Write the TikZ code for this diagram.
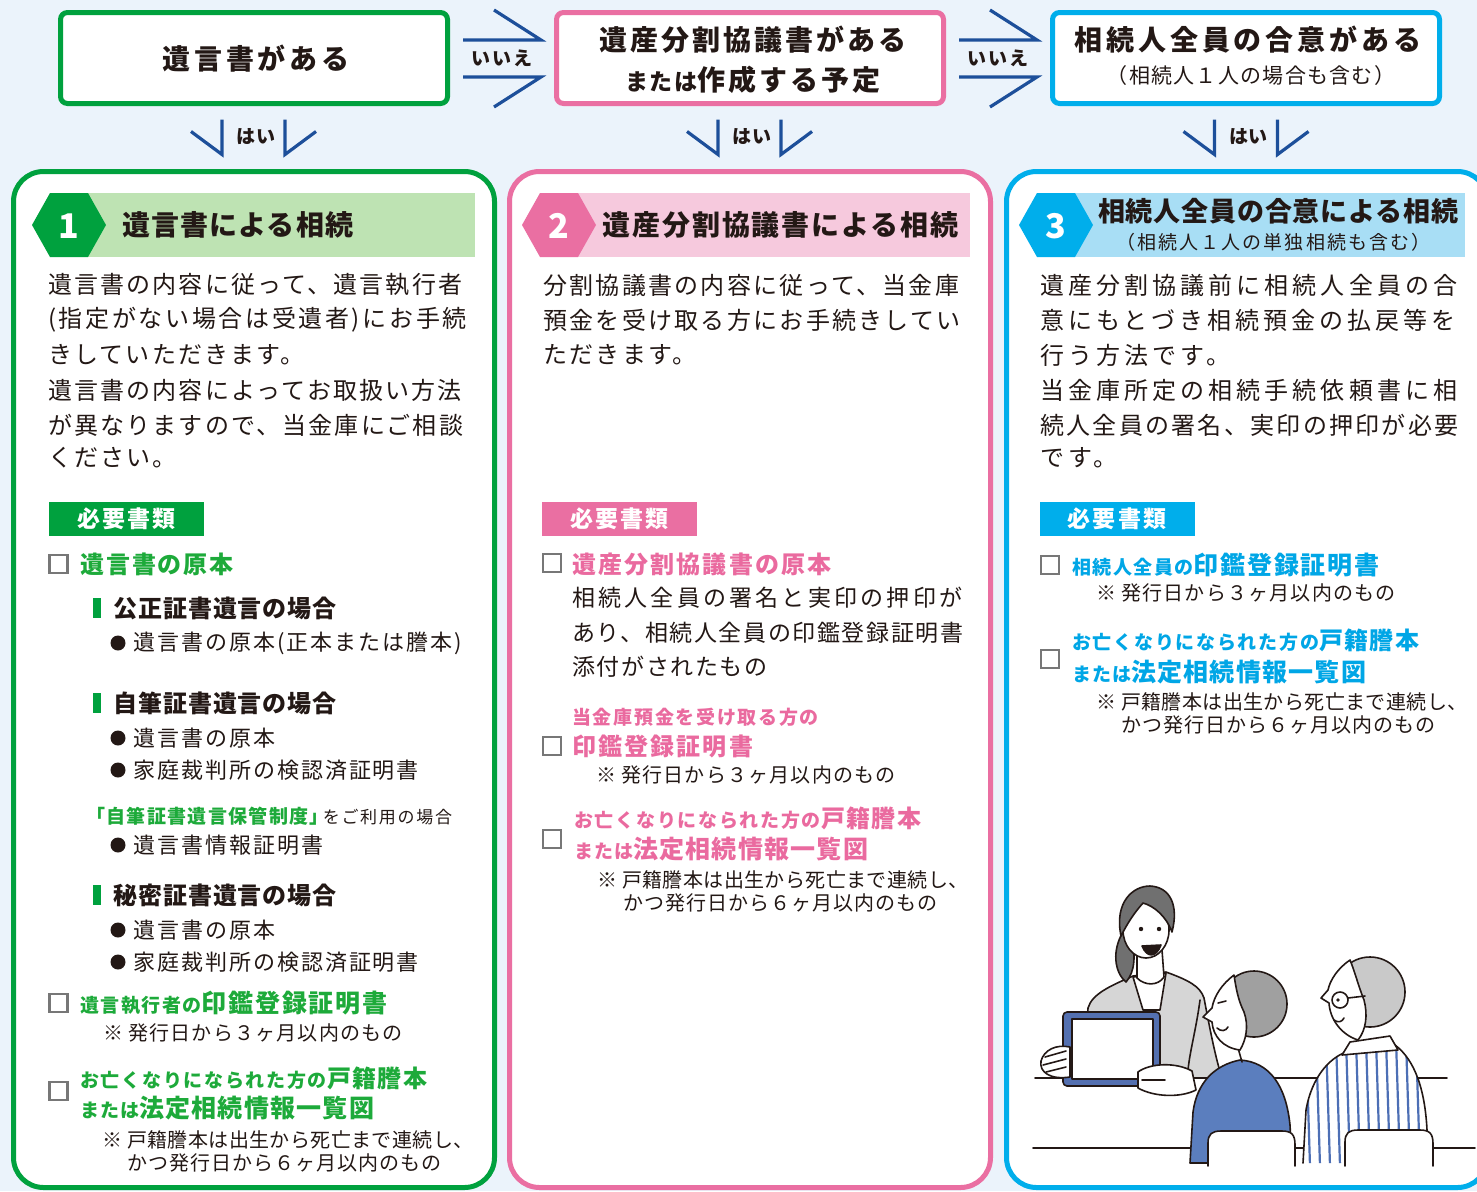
\documentclass[tikz,border=0pt]{standalone}
\usepackage{fontspec}
\setmainfont{Noto Sans CJK JP}
\usetikzlibrary{calc}

\definecolor{bg}{HTML}{EBF3FB}
\definecolor{ink}{HTML}{231815}
\definecolor{cgreen}{HTML}{00A13E}
\definecolor{lgreen}{HTML}{BEE3B3}
\definecolor{tgreen}{HTML}{1DAA3A}
\definecolor{cpink}{HTML}{EA6FA2}
\definecolor{lpink}{HTML}{F6C9DD}
\definecolor{tpink}{HTML}{EA6A9F}
\definecolor{ccyan}{HTML}{00AEEB}
\definecolor{lcyan}{HTML}{A8DEF5}
\definecolor{tcyan}{HTML}{00A6E6}
\definecolor{navy}{HTML}{1D4F9A}
\definecolor{boxgray}{HTML}{777777}
\definecolor{jacket}{HTML}{D6D6D6}
\definecolor{hairdark}{HTML}{707070}
\definecolor{hairgray}{HTML}{A0A0A0}
\definecolor{hairlight}{HTML}{C9C9C9}
\definecolor{tabblue}{HTML}{5470B0}
\definecolor{topblue}{HTML}{5B7EBE}
\definecolor{stripe}{HTML}{4D6FB5}

% size and tracking of a run of text
\newcommand\fs[2]{\fontsize{#1}{#1}\selectfont\addfontfeatures{LetterSpace=#2}}

\tikzset{
  txt/.style={anchor=west, inner sep=0pt, text=ink},
  ctxt/.style={anchor=center, inner sep=0pt, text=ink},
  topbox/.style={draw=#1, line width=5pt, rounded corners=7pt, fill=white,
    minimum width=387pt, minimum height=91pt, inner sep=0pt},
  panel/.style={draw=#1, line width=5pt, rounded corners=30pt, fill=white,
    minimum width=481pt, minimum height=1016pt, inner sep=0pt},
  chev/.style={draw=navy, line width=3.2pt},
  chk/.style={draw=boxgray, line width=2.5pt, minimum size=18pt, inner sep=0pt},
  dot/.style={circle, fill=ink, minimum size=15pt, inner sep=0pt},
  bar/.style={fill=#1, minimum width=8pt, minimum height=20pt, inner sep=0pt},
  tag/.style={fill=#1, minimum width=155pt, minimum height=34pt, inner sep=0pt,
    text=white, font=\bfseries\fs{23}{9}},
  hexnum/.style={text=white, font=\bfseries\fontsize{34}{34}\selectfont, inner sep=0pt},
  art/.style={draw=ink, line width=1.6pt, line join=round, line cap=round},
}

\begin{document}
\begin{tikzpicture}[x=1pt,y=-1pt]
\useasboundingbox (0,0) rectangle (1477,1191);
\fill[bg] (0,0) rectangle (1477,1191);
\clip (0,0) rectangle (1477,1191);

% ---------- question boxes ----------
\node[topbox=cgreen] (q1) at (254,58) {};
\node[topbox=cpink]  (q2) at (750,58) {};
\node[topbox=ccyan]  (q3) at (1246,58) {};

\node[ctxt] (q1t) at (256,59) {\bfseries\fs{28}{13}遺言書がある};
\node[ctxt] (q2a) at (753,40) {\bfseries\fs{28}{11}遺産分割協議書がある};
\node[ctxt] (q2b) at (753,80) {\bfseries\fs{23}{6}または\fs{28}{11}作成する予定};
\node[ctxt] (q3a) at (1248,40) {\bfseries\fs{28}{14}相続人全員の合意がある};
\node[ctxt] (q3b) at (1251,76) {\fs{21}{6}（相続人１人の場合も含む）};

% ---------- answer panels ----------
\node[panel=cgreen] (p1) at (254,679.5) {};
\node[panel=cpink]  (p2) at (750,679.5) {};
\node[panel=ccyan]  (p3) at (1247,679.5) {};

% ---------- "no" arrows between the questions ----------
\foreach \a/\b/\n in {q1/q2/n1, q2/q3/n2}{
  \coordinate (\n) at ($(\a.east)!0.5!(\b.west)$);
  \draw[chev] ($(\n)+(-39,-18)$) -- ($(\n)+(39,-18)$) -- ($(\n)+(-8,-48)$);
  \draw[chev] ($(\n)+(-39,19)$) -- ($(\n)+(39,19)$) -- ($(\n)+(-8,49)$);
  \node[ctxt] (\n t) at ($(\n)+(0,0)$) {\bfseries\fs{19}{10}いいえ};
}

% ---------- "yes" arrows from each question to its panel ----------
\foreach \a/\b/\n in {q1/p1/y1, q2/p2/y2, q3/p3/y3}{
  \coordinate (\n) at ($(\a.south)!0.5!(\b.north)$);
  \draw[chev] ($(\n)+(-63,-6)$) -- ($(\n)+(-32,17)$) -- ($(\n)+(-32,-18)$);
  \draw[chev] ($(\n)+(31,-18)$) -- ($(\n)+(31,17)$) -- ($(\n)+(62,-6)$);
  \node[ctxt] (\n t) at ($(\n)+(2,-1)$) {\bfseries\fs{19}{5}はい};
}

% ---------- panel headers ----------
\fill[lgreen] (50,193) rectangle (475,257);
\fill[lpink]  (540,193) rectangle (970,257);
\fill[lcyan]  (1038,193) rectangle (1465,257);
\foreach \xl/\c/\num/\h in {32/cgreen/1/h1, 522/cpink/2/h2, 1019/ccyan/3/h3}{
  \fill[\c] (\xl,225) -- (\xl+18,193) -- (\xl+56,193) -- (\xl+74,225)
            -- (\xl+56,257) -- (\xl+18,257) -- cycle;
  \node[hexnum] (\h) at (\xl+37,226) {\num};
}
\node[txt] (t1) at (122,225) {\bfseries\fs{28}{4}遺言書による相続};
\node[txt] (t2) at (602,225) {\bfseries\fs{28}{7}遺産分割協議書による相続};
\node[txt] (t3) at (1098,211) {\bfseries\fs{27}{3}相続人全員の合意による相続};
\node[txt] (t3s) at (1116,242) {\fs{19}{11}（相続人１人の単独相続も含む）};

% ---------- panel 1 : will ----------
\node[txt] (a1) at (48,285) {\fs{24}{9}遺言書の内容に従って、遺言執行者};
\node[txt] (a2) at (48,320) {\fs{24}{11}(指定がない場合は受遺者)にお手続};
\node[txt] (a3) at (48,355) {\fs{24}{9}きしていただきます。};
\node[txt] (a4) at (48,390) {\fs{24}{9}遺言書の内容によってお取扱い方法};
\node[txt] (a5) at (48,425) {\fs{24}{9}が異なりますので、当金庫にご相談};
\node[txt] (a6) at (48,458) {\fs{24}{9}ください。};

\node[tag=cgreen] (g1) at (126.5,519) {必要書類};

\node[chk] (c11) at (58.5,564) {};
\node[txt,text=tgreen] (a7) at (80,564) {\bfseries\fs{24}{8}遺言書の原本};

\node[bar=cgreen] (b11) at (97,608) {};
\node[txt] (a8) at (113,608) {\bfseries\fs{24}{4}公正証書遺言の場合};
\node[dot] (d11) at (118,643) {};
\node[txt] (a9) at (133,643) {\fs{22}{9}遺言書の原本(正本または謄本)};

\node[bar=cgreen] (b12) at (97,703) {};
\node[txt] (a10) at (113,703) {\bfseries\fs{24}{4}自筆証書遺言の場合};
\node[dot] (d12) at (118,738) {};
\node[txt] (a11) at (133,738) {\fs{22}{9}遺言書の原本};
\node[dot] (d13) at (118,770) {};
\node[txt] (a12) at (133,770) {\fs{22}{9}家庭裁判所の検認済証明書};

\node[txt] (a13) at (86,816) {{\color{tgreen}\bfseries\fs{19}{7}「自筆証書遺言保管制度」}\hspace{-6pt}\fs{17}{10}をご利用の場合};
\node[dot] (d14) at (118,845) {};
\node[txt] (a14) at (133,845) {\fs{22}{9}遺言書情報証明書};

\node[bar=cgreen] (b13) at (97,895) {};
\node[txt] (a15) at (113,895) {\bfseries\fs{24}{4}秘密証書遺言の場合};
\node[dot] (d15) at (118,930) {};
\node[txt] (a16) at (133,930) {\fs{22}{9}遺言書の原本};
\node[dot] (d16) at (118,962) {};
\node[txt] (a17) at (133,962) {\fs{22}{9}家庭裁判所の検認済証明書};

\node[chk] (c12) at (58.5,1003) {};
\node[txt,text=tgreen] (a18) at (80,1003) {\bfseries\fs{19}{8}遺言執行者の\fs{25}{7}印鑑登録証明書};
\node[txt] (a19) at (103,1033) {\fs{20}{6}※\hspace{5pt}発行日から３ヶ月以内のもの};

\node[chk] (c13) at (58.5,1091) {};
\node[txt,text=tgreen] (a20) at (80,1078) {\bfseries\fs{19}{9}お亡くなりになられた方の\fs{24}{6}戸籍謄本};
\node[txt,text=tgreen] (a21) at (80,1108) {\bfseries\fs{19}{5}または\fs{25}{5}法定相続情報一覧図};
\node[txt] (a22) at (102,1140) {\fs{20}{2}※\hspace{5pt}戸籍謄本は出生から死亡まで連続し、};
\node[txt] (a23) at (127,1163) {\fs{20}{5}かつ発行日から６ヶ月以内のもの};

% ---------- panel 2 : division agreement ----------
\node[txt] (e1) at (543,285) {\fs{24}{9.5}分割協議書の内容に従って、当金庫};
\node[txt] (e2) at (543,320) {\fs{24}{9.5}預金を受け取る方にお手続きしてい};
\node[txt] (e3) at (543,355) {\fs{24}{9.5}ただきます。};

\node[tag=cpink] (g2) at (619.5,519) {必要書類};

\node[chk] (c21) at (552,563) {};
\node[txt,text=tpink] (e4) at (572,564) {\bfseries\fs{24}{9}遺産分割協議書の原本};
\node[txt] (e5) at (572,598) {\fs{23}{14}相続人全員の署名と実印の押印が};
\node[txt] (e6) at (572,633) {\fs{23}{7}あり、相続人全員の印鑑登録証明書};
\node[txt] (e7) at (572,667) {\fs{23}{7}添付がされたもの};

\node[txt,text=tpink] (e8) at (572,717) {\bfseries\fs{19}{9}当金庫預金を受け取る方の};
\node[chk] (c22) at (552,746) {};
\node[txt,text=tpink] (e9) at (572,746) {\bfseries\fs{24}{9}印鑑登録証明書};
\node[txt] (e10) at (596,775) {\fs{20}{6}※\hspace{5pt}発行日から３ヶ月以内のもの};

\node[chk] (c23) at (552,839) {};
\node[txt,text=tpink] (e11) at (574,818) {\bfseries\fs{19}{9}お亡くなりになられた方の\fs{24}{6}戸籍謄本};
\node[txt,text=tpink] (e12) at (574,849) {\bfseries\fs{19}{5}または\fs{25}{5}法定相続情報一覧図};
\node[txt] (e13) at (597,880) {\fs{20}{2}※\hspace{5pt}戸籍謄本は出生から死亡まで連続し、};
\node[txt] (e14) at (623,903) {\fs{20}{5}かつ発行日から６ヶ月以内のもの};

% ---------- panel 3 : agreement of all heirs ----------
\node[txt] (f1) at (1040,285) {\fs{24}{17}遺産分割協議前に相続人全員の合};
\node[txt] (f2) at (1040,320) {\fs{24}{17}意にもとづき相続預金の払戻等を};
\node[txt] (f3) at (1040,355) {\fs{24}{17}行う方法です。};
\node[txt] (f4) at (1040,390) {\fs{24}{17}当金庫所定の相続手続依頼書に相};
\node[txt] (f5) at (1040,425) {\fs{24}{9.5}続人全員の署名、実印の押印が必要};
\node[txt] (f6) at (1040,458) {\fs{24}{17}です。};

\node[tag=ccyan] (g3) at (1117,519) {必要書類};

\node[chk] (c31) at (1050,565) {};
\node[txt,text=tcyan] (f7) at (1072,565) {\bfseries\fs{19}{8}相続人全員の\fs{25}{7}印鑑登録証明書};
\node[txt] (f8) at (1096,593) {\fs{20}{6}※\hspace{5pt}発行日から３ヶ月以内のもの};

\node[chk] (c32) at (1050,659) {};
\node[txt,text=tcyan] (f9) at (1072,640) {\bfseries\fs{19}{9}お亡くなりになられた方の\fs{24}{6}戸籍謄本};
\node[txt,text=tcyan] (f10) at (1072,672) {\bfseries\fs{19}{5}または\fs{25}{5}法定相続情報一覧図};
\node[txt] (f11) at (1096,702) {\fs{20}{2}※\hspace{5pt}戸籍謄本は出生から死亡まで連続し、};
\node[txt] (f12) at (1121,725) {\fs{20}{5}かつ発行日から６ヶ月以内のもの};

% ---------- counter scene ----------
\begin{scope}[art]
  % counter edges
  \draw (1035,1078) -- (1447,1078);
  \draw (1033,1148) -- (1475,1148);

  % clerk: jacket, shirt, neck
  \filldraw[fill=jacket] (1084,1078) -- (1088,1008) .. controls (1092,994) and (1110,986) .. (1133,976)
      -- (1166,972) .. controls (1188,980) and (1200,986) .. (1204,998)
      .. controls (1210,1030) and (1216,1060) .. (1222,1078) -- cycle;
  \draw (1200,1000) .. controls (1196,1030) and (1190,1050) .. (1188,1070);
  \filldraw[fill=white] (1133,977) -- (1143,1010) -- (1160,1010) -- (1166,973) -- cycle;
  \filldraw[fill=hairdark] (1123,932) .. controls (1112,950) and (1114,972) .. (1126,982)
      .. controls (1135,972) and (1136,955) .. (1131,936) -- cycle;
  \filldraw[fill=white] (1137,950) -- (1137,978) .. controls (1145,986) and (1158,986) .. (1164,977) -- (1162,950) -- cycle;
  % clerk: head
  \filldraw[fill=white] (1146,930) ellipse [x radius=23, y radius=28];
  \filldraw[fill=hairdark] (1121,936) .. controls (1114,902) and (1133,886) .. (1150,886)
      .. controls (1170,887) and (1179,905) .. (1172,932)
      .. controls (1166,916) and (1154,906) .. (1143,903)
      .. controls (1134,913) and (1127,924) .. (1121,936) -- cycle;
  \fill[ink] (1141,929) circle (2.2);
  \fill[ink] (1159,929) circle (2.2);
  \filldraw[fill=ink] (1142,946) .. controls (1147,958) and (1156,958) .. (1161,945) -- cycle;

  % clerk: tablet and hands
  \filldraw[fill=tabblue, rounded corners=4pt] (1063,1012) rectangle (1160,1086);
  \filldraw[fill=white] (1072,1019) rectangle (1153,1079);
  \filldraw[fill=white] (1070,1047) .. controls (1056,1044) and (1044,1050) .. (1041,1061)
      .. controls (1039,1072) and (1050,1080) .. (1070,1077) -- cycle;
  \draw (1045,1057) -- (1066,1051);
  \draw (1043,1065) -- (1066,1059);
  \draw (1046,1072) -- (1066,1067);
  \filldraw[fill=white] (1138,1072) .. controls (1150,1063) and (1176,1062) .. (1192,1071)
      -- (1196,1090) .. controls (1180,1098) and (1154,1097) .. (1138,1088) -- cycle;
  \draw (1142,1080) -- (1165,1080);

  % customer on the left: body, head
  \filldraw[fill=topblue] (1190,1163) -- (1193,1112) .. controls (1197,1082) and (1215,1065) .. (1240,1060)
      .. controls (1270,1062) and (1286,1086) .. (1290,1125) -- (1292,1163) -- cycle;
  \draw (1238,1048) -- (1242,1062);
  \filldraw[fill=hairgray] (1254,1004) circle (33);
  \filldraw[fill=white] (1234,975) .. controls (1222,984) and (1214,996) .. (1212,1008)
      -- (1203,1017) -- (1212,1022) .. controls (1213,1036) and (1223,1048) .. (1240,1050)
      .. controls (1246,1040) and (1249,1026) .. (1244,1012)
      .. controls (1238,1000) and (1236,988) .. (1234,975) -- cycle;
  \draw (1218,1003) -- (1226,1001);
  \draw (1217,1028) .. controls (1221,1032) and (1226,1031) .. (1228,1027);

  % customer on the right: striped shirt, head
  \path[fill=white] (1303,1163) -- (1306,1110) .. controls (1312,1076) and (1330,1058) .. (1346,1052)
      -- (1395,1045) .. controls (1415,1060) and (1425,1090) .. (1427,1130) -- (1428,1163) -- cycle;
  \begin{scope}
    \clip (1303,1163) -- (1306,1110) .. controls (1312,1076) and (1330,1058) .. (1346,1052)
      -- (1395,1045) .. controls (1415,1060) and (1425,1090) .. (1427,1130) -- (1428,1163) -- cycle;
    \foreach \s in {1296,1306,...,1436}
      \draw[stripe, line width=2.2pt] (\s,1040) -- (\s+4,1166);
  \end{scope}
  \draw (1303,1163) -- (1306,1110) .. controls (1312,1076) and (1330,1058) .. (1346,1052)
      -- (1395,1045) .. controls (1415,1060) and (1425,1090) .. (1427,1130) -- (1428,1163);
  \filldraw[fill=hairlight] (1370,992) circle (35);
  \filldraw[fill=white] (1350,960) .. controls (1338,968) and (1330,980) .. (1328,990)
      -- (1321,998) -- (1329,1003) .. controls (1330,1020) and (1342,1035) .. (1358,1040)
      .. controls (1366,1030) and (1368,1015) .. (1364,1000)
      .. controls (1358,985) and (1355,972) .. (1350,960) -- cycle;
  \draw (1340,1000) circle (8);
  \draw (1348,998) -- (1365,996);
  \fill[ink] (1338,1000) circle (1.8);
  \draw (1334,1020) .. controls (1338,1023) and (1342,1022) .. (1344,1018);
  \filldraw[fill=white] (1342,1055) -- (1350,1042) -- (1390,1036) -- (1398,1050) -- cycle;

  % chair backs
  \filldraw[fill=white] (1208,1166) -- (1208,1143) .. controls (1208,1134) and (1212,1131) .. (1221,1131)
      -- (1282,1131) .. controls (1292,1131) and (1295,1135) .. (1295,1145) -- (1295,1166);
  \filldraw[fill=white] (1345,1166) -- (1345,1142) .. controls (1345,1133) and (1349,1130) .. (1358,1130)
      -- (1420,1130) .. controls (1430,1130) and (1433,1134) .. (1433,1144) -- (1433,1166);
\end{scope}
\end{tikzpicture}
\end{document}
